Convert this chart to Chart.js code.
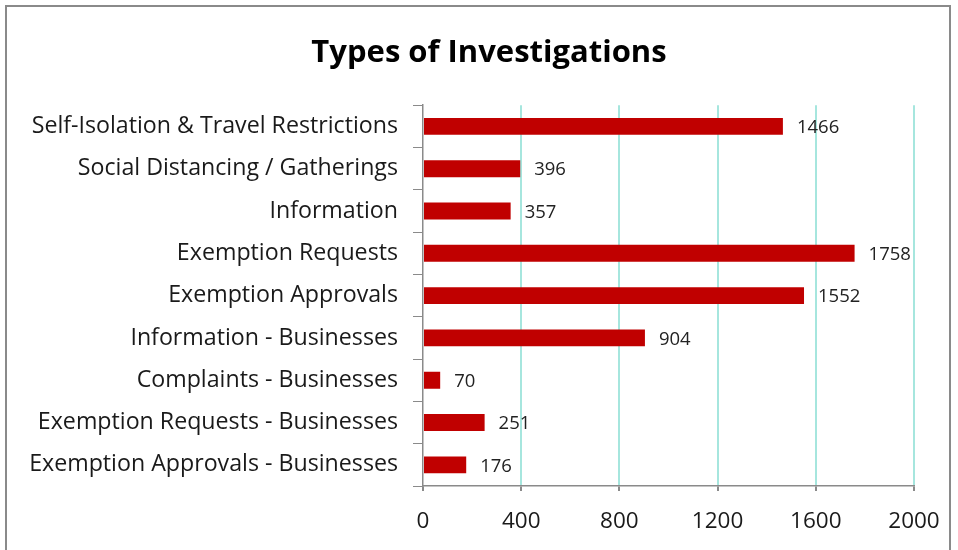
<!DOCTYPE html>
<html>
<head>
<meta charset="utf-8">
<script src="https://cdn.jsdelivr.net/npm/chart.js@4"></script>
<style>
  html, body { margin: 0; padding: 0; background: #fff; overflow: hidden; }
  #wrap { position: relative; width: 958px; height: 550px; }
  #frame { position: absolute; left: 5px; top: 5px; width: 946px; height: 560px; border: 2px solid #8a8a8a; box-sizing: border-box; }
  canvas { position: absolute; left: 0; top: 0; }
</style>
</head>
<body>
<div id="wrap">
  <div id="frame"></div>
  <canvas id="myChart" width="958" height="550"></canvas>
</div>
<script>
const categories = [
    "Self-Isolation & Travel Restrictions",
    "Social Distancing / Gatherings",
    "Information",
    "Exemption Requests",
    "Exemption Approvals",
    "Information - Businesses",
    "Complaints - Businesses",
    "Exemption Requests - Businesses",
    "Exemption Approvals - Businesses"
];
const investigations = [1466, 396, 357, 1758, 1552, 904, 70, 251, 176];
const xTicks = [0, 400, 800, 1200, 1600, 2000];

const fontFamily = "'Open Sans', Lato, sans-serif";

// value labels drawn to the right of each bar
const valueLabels = {
    id: 'valueLabels',
    afterLayout(chart) {
        // title sits a bit right of the canvas centre in the original
        chart.titleBlock.left += 44;
    },
    afterDatasetsDraw(chart) {
        const ctx = chart.ctx;
        const meta = chart.getDatasetMeta(0);
        ctx.save();
        ctx.font = '18.5px ' + fontFamily;
        ctx.fillStyle = '#222';
        ctx.textAlign = 'left';
        ctx.textBaseline = 'middle';
        meta.data.forEach((bar, i) => {
            ctx.fillText(String(investigations[i]), bar.x + 14, bar.y + 1.5);
        });
        ctx.restore();
    }
};

function plot() {
    let myChart = document.getElementById('myChart').getContext('2d');

    new Chart(myChart, {
        type: 'bar',
        data: {
            labels: categories,
            datasets: [{
                data: investigations,
                backgroundColor: '#C00000',
                borderWidth: 0,
                barPercentage: 0.4,
                categoryPercentage: 1.0
            }]
        },
        options: {
            indexAxis: 'y',
            responsive: false,
            animation: false,
            layout: {
                padding: { left: 20, right: 44, top: 20, bottom: 14 }
            },
            plugins: {
                legend: { display: false },
                tooltip: { enabled: false },
                title: {
                    display: true,
                    text: 'Types of Investigations',
                    color: '#000',
                    font: { family: fontFamily, size: 31, weight: 'bold', lineHeight: 1.2 },
                    padding: { top: 15, bottom: 33 }
                }
            },
            scales: {
                x: {
                    type: 'linear',
                    min: 0,
                    max: 2000,
                    afterBuildTicks(scale) {
                        scale.ticks = xTicks.map(v => ({ value: v }));
                    },
                    afterFit(scale) { scale.height = 50; },
                    grid: {
                        color: ctx => (ctx.tick && ctx.tick.value === 0) ? 'rgba(0,0,0,0)' : '#a6e6de',
                        lineWidth: 2,
                        tickColor: '#8a8a8a',
                        tickLength: 5,
                        drawTicks: true
                    },
                    border: { color: '#8a8a8a', width: 1.5 },
                    ticks: {
                        color: '#1a1a1a',
                        padding: 17,
                        font: { family: fontFamily, size: 22.5 },
                        callback: v => String(v)
                    }
                },
                y: {
                    afterFit(scale) { scale.width = 403; },
                    grid: {
                        drawOnChartArea: false,
                        color: '#8a8a8a',
                        tickLength: 10
                    },
                    border: { color: '#8a8a8a', width: 1.5 },
                    ticks: {
                        color: '#1a1a1a',
                        padding: 15,
                        autoSkip: false,
                        font: { family: fontFamily, size: 23.2 }
                    }
                }
            }
        },
        plugins: [valueLabels]
    });
}
plot();
</script>
</body>
</html>
